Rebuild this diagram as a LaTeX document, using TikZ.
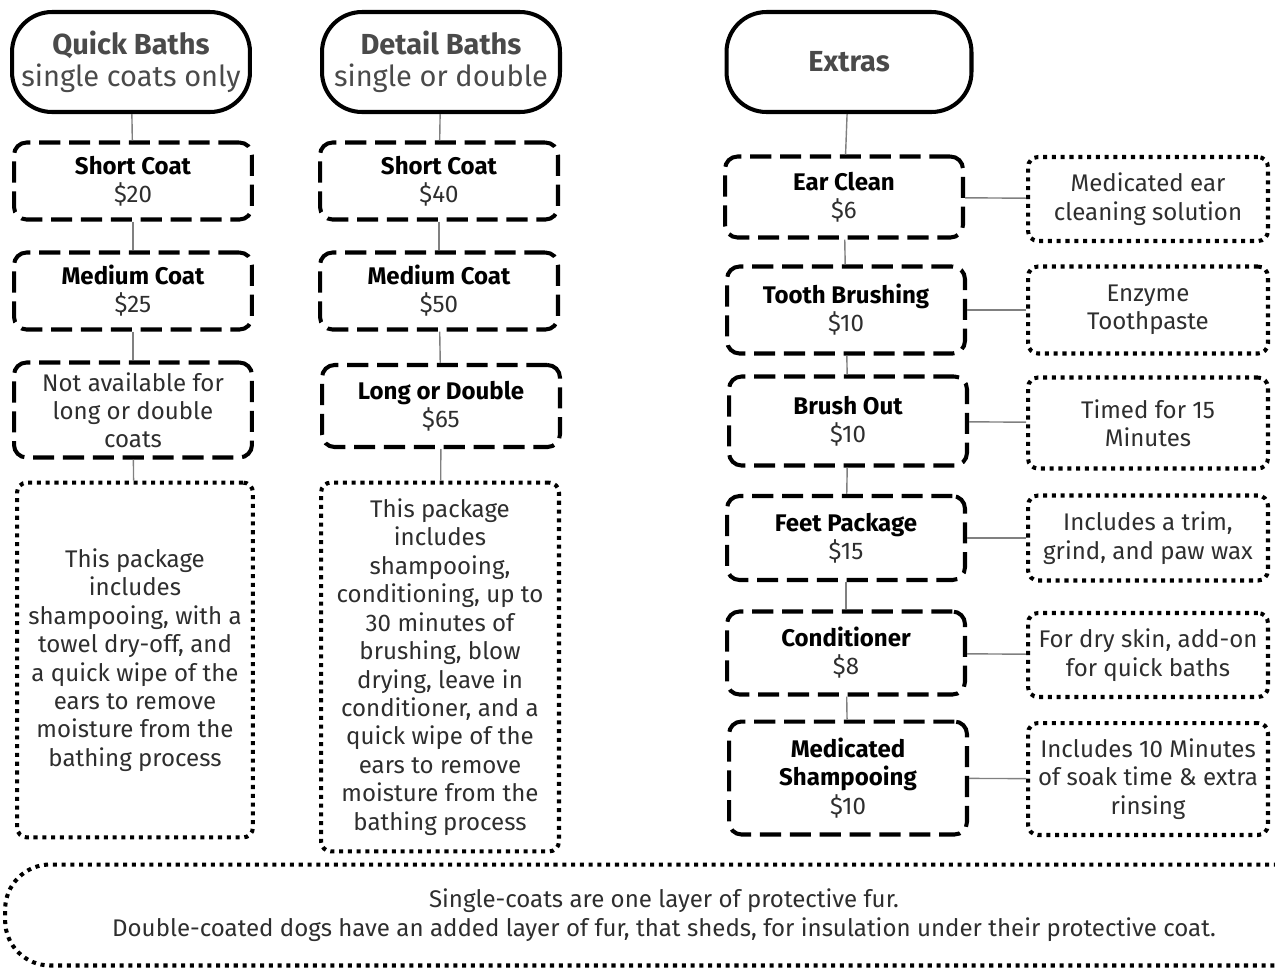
\documentclass[tikz,border=0pt]{standalone}
\usepackage{fontspec}
\setmainfont{Fira Sans}
\usetikzlibrary{positioning}

\definecolor{txtgray}{HTML}{2E2E2E}
\definecolor{headgray}{HTML}{4A4A4A}

\tikzset{
 titlebox/.style={draw, line width=2.3pt, rounded corners=0.8cm, align=center, text=headgray,
   minimum height=2cm, font=\fontsize{16.5}{18}\selectfont},
 pricebox/.style={draw, line width=2.3pt, dash pattern=on 12pt off 5pt, rounded corners=0.25cm,
   align=center, text=txtgray, minimum width=4.76cm, font=\fontsize{13.7}{16}\selectfont},
 notebox/.style={draw, line width=2.3pt, dash pattern=on 2.3pt off 2.7pt, rounded corners=0.2cm,
   align=center, text=txtgray, font=\fontsize{13.7}{16.2}\selectfont},
 link/.style={draw=gray, line width=0.8pt}
}
\newcommand{\hd}[1]{\textcolor{black}{\bfseries #1}}

\begin{document}
\begin{tikzpicture}[x=0.02cm, y=-0.02cm]
\useasboundingbox (0,0) rectangle (1275,971);

% title boxes
\path
(131,62) node[titlebox, minimum width=4.76cm](quick) {\textbf{Quick Baths}\\single coats only}
(441,62) node[titlebox, minimum width=4.76cm](detail) {\textbf{Detail Baths}\\single or double}
(849,62) node[titlebox, minimum width=4.9cm](extras) {\textbf{Extras}};

%% quick baths column
\path
(133,181) node[pricebox, minimum height=1.54cm](qshort) {\hd{Short Coat}\\\$20}
(133,291) node[pricebox, minimum height=1.54cm](qmedium) {\hd{Medium Coat}\\\$25}
(133,410) node[pricebox, minimum height=1.9cm](qnone) {Not available for\\long or double\\coats}
(135,660) node[notebox, minimum width=4.72cm, minimum height=7.1cm](qnote)
 {This package\\includes\\shampooing, with a\\towel dry-off, and\\a quick wipe of the\\ears to remove\\moisture from the\\bathing process};

%% detail baths column
\path
(439,181) node[pricebox, minimum height=1.54cm](dshort) {\hd{Short Coat}\\\$40}
(439,291) node[pricebox, minimum height=1.54cm](dmedium) {\hd{Medium Coat}\\\$50}
(441,406) node[pricebox, minimum height=1.64cm](dlong) {\hd{Long or Double}\\\$65}
(440,667) node[notebox, minimum width=4.76cm, minimum height=7.38cm](dnote)
 {This package\\includes\\shampooing,\\conditioning, up to\\30 minutes of\\brushing, blow\\drying, leave in\\conditioner, and a\\quick wipe of the\\ears to remove\\moisture from the\\bathing process};

%% extras column
\path
(844,197) node[pricebox, minimum height=1.62cm](ear) {\hd{Ear Clean}\\\$6}
(846,310) node[pricebox, minimum height=1.74cm](tooth) {\hd{Tooth Brushing}\\\$10}
(848,421) node[pricebox, minimum height=1.78cm](brush) {\hd{Brush Out}\\\$10}
(846,538) node[pricebox, minimum height=1.68cm](feet) {\hd{Feet Package}\\\$15}
(846,653) node[pricebox, minimum height=1.66cm](cond) {\hd{Conditioner}\\\$8}
(848,778) node[pricebox, minimum height=2.26cm](medsh) {\hd{Medicated}\\\hd{Shampooing}\\\$10};

%% notes on the extras
\path
(1148,199) node[notebox, minimum width=4.8cm, minimum height=1.68cm](earnote) {Medicated ear\\cleaning solution}
(1148,310) node[notebox, minimum width=4.8cm, minimum height=1.74cm](toothnote) {Enzyme\\Toothpaste}
(1148,423) node[notebox, minimum width=4.8cm, minimum height=1.82cm](brushnote) {Timed for 15\\Minutes}
(1148,538) node[notebox, minimum width=4.8cm, minimum height=1.7cm](feetnote) {Includes a trim,\\grind, and paw wax}
(1148,655) node[notebox, minimum width=4.8cm, minimum height=1.68cm](condnote) {For dry skin, add-on\\for quick baths}
(1148,779) node[notebox, minimum width=4.8cm, minimum height=2.24cm](mednote) {Includes 10 Minutes\\of soak time \& extra\\rinsing};

% footnote box, runs off the right edge
\path (664,915) node[notebox, rounded corners=0.9cm, minimum width=26.36cm, minimum height=2.02cm](coats)
 {Single-coats are one layer of protective fur.\\Double-coated dogs have an added layer of fur, that sheds, for insulation under their protective coat.};

%% links
\draw[link] (quick) -- (qshort);
\draw[link] (qshort) -- (qmedium);
\draw[link] (qmedium) -- (qnone);
\draw[link] (qnone) -- (qnote);
\draw[link] (detail) -- (dshort);
\draw[link] (dshort) -- (dmedium);
\draw[link] (dmedium) -- (dlong);
\draw[link] (dlong) -- (dnote);
\draw[link] (extras) -- (ear);
\draw[link] (ear) -- (tooth);
\draw[link] (tooth) -- (brush);
\draw[link] (brush) -- (feet);
\draw[link] (feet) -- (cond);
\draw[link] (cond) -- (medsh);
\draw[link] (ear) -- (earnote);
\draw[link] (tooth) -- (toothnote);
\draw[link] (brush) -- (brushnote);
\draw[link] (feet) -- (feetnote);
\draw[link] (cond) -- (condnote);
\draw[link] (medsh) -- (mednote);

\end{tikzpicture}
\end{document}
